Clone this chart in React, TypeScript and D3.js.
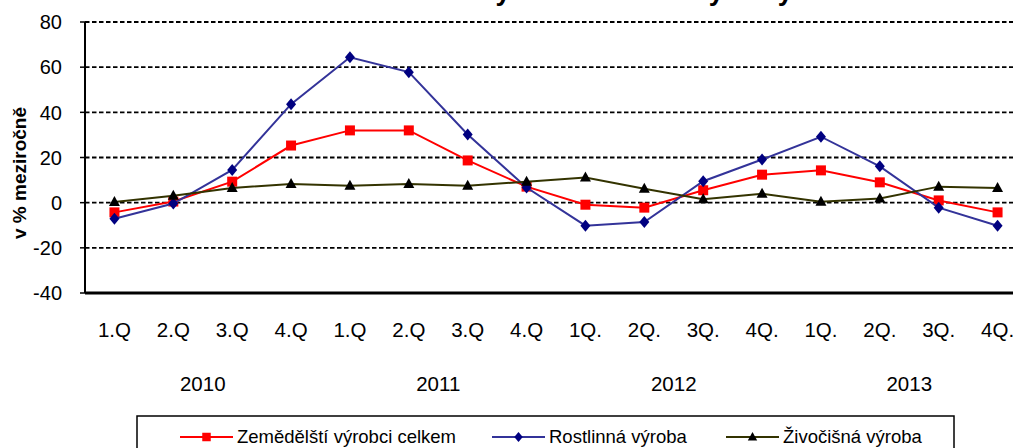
import * as d3 from "d3";

const quarters = ["1.Q", "2.Q", "3.Q", "4.Q", "1.Q", "2.Q", "3.Q", "4.Q", "1Q.", "2Q.", "3Q.", "4Q.", "1Q.", "2Q.", "3Q.", "4Q."];
const years = ["2010", "2011", "2012", "2013"];
const celkem = [-4.3, 0.5, 9.3, 25.3, 32.0, 32.0, 18.7, 7.1, -0.9, -2.2, 5.5, 12.4, 14.3, 9.0, 1.0, -4.3];
const rostlinna = [-7.1, -0.4, 14.5, 43.6, 64.4, 57.8, 30.2, 6.7, -10.2, -8.6, 9.5, 19.1, 29.2, 16.1, -2.2, -10.2];
const zivocisna = [0.3, 3.1, 6.5, 8.3, 7.5, 8.3, 7.5, 9.3, 11.1, 6.2, 1.5, 4.0, 0.4, 1.8, 7.1, 6.5];
const yTicks = [-40, -20, 0, 20, 40, 60, 80];

const font = "'Liberation Sans', Arial, sans-serif";

const square = "M-5,-5H5V5H-5Z";
const diamond = "M0,-6L5,0L0,6L-5,0Z";
const triangle = "M0,-6L5.5,4L-5.5,4Z";

const series = [
  { name: "Zemědělští výrobci celkem", values: celkem, line: "#ff0000", fill: "#ff0000", marker: square, lx: 180 },
  { name: "Rostlinná výroba", values: rostlinna, line: "#333399", fill: "#000080", marker: diamond, lx: 492 },
  { name: "Živočišná výroba", values: zivocisna, line: "#333300", fill: "#000000", marker: triangle, lx: 726 },
];

export default function App() {
  const width = 1013;
  const height = 448;
  const x = d3.scaleBand<number>().domain(d3.range(quarters.length)).range([85, 1027]);
  const cx = (i: number) => (x(i) as number) + x.bandwidth() / 2;
  const y = d3.scaleLinear().domain([-40, 80]).range([293, 22]);

  const line = d3
    .line<number>()
    .x((_, i) => cx(i))
    .y((d) => y(d));

  return (
    <svg
      width={width}
      height={height}
      style={{ position: "absolute", left: 0, top: 0, background: "#fff" }}
      fontFamily={font}
    >
      {/* title sits above the visible area, only descenders show */}
      <text x={425} y={0} fontSize={27} fontWeight="bold" fill="#000">
        Indexy cen zemědělských výrobců
      </text>

      {/* gridlines */}
      {yTicks.filter((t) => t !== -40).map((t) => (
        <line
          key={"g" + t}
          x1={85}
          x2={width}
          y1={y(t)}
          y2={y(t)}
          stroke="#000"
          strokeWidth={1.8}
          strokeDasharray="4.5,2.5"
        />
      ))}

      {/* y axis */}
      <line x1={85} x2={85} y1={y(80)} y2={y(-40)} stroke="#000" strokeWidth={2} />
      {yTicks.map((t) => (
        <g key={"t" + t}>
          <line x1={80} x2={85} y1={y(t)} y2={y(t)} stroke="#000" strokeWidth={1.5} />
          <text x={62} y={y(t)} dy="0.36em" textAnchor="end" fontSize={20}>
            {t}
          </text>
        </g>
      ))}
      <text
        transform={`translate(26,173) rotate(-90)`}
        textAnchor="middle"
        fontSize={19}
        fontWeight="bold"
      >
        v % meziročně
      </text>

      {/* x axis */}
      <line x1={85} x2={width} y1={y(-40)} y2={y(-40)} stroke="#000" strokeWidth={2.8} />
      {quarters.map((q, i) => (
        <text key={"q" + i} x={cx(i)} y={337} textAnchor="middle" fontSize={20.5}>
          {q}
        </text>
      ))}
      {years.map((yr, k) => (
        <text
          key={yr}
          x={(cx(k * 4 + 1) + cx(k * 4 + 2)) / 2}
          y={391}
          textAnchor="middle"
          fontSize={20.5}
        >
          {yr}
        </text>
      ))}

      {/* series */}
      {series.map((s) => (
        <g key={s.name}>
          <path d={line(s.values) || ""} fill="none" stroke={s.line} strokeWidth={2} />
          {s.values.map((v, i) => (
            <path key={i} d={s.marker} transform={`translate(${cx(i)},${y(v)})`} fill={s.fill} />
          ))}
        </g>
      ))}

      {/* legend */}
      <rect x={137} y={416} width={817} height={44} fill="#fff" stroke="#000" strokeWidth={1.5} />
      {series.map((s) => (
        <g key={"l" + s.name}>
          <line x1={s.lx} x2={s.lx + 53} y1={437} y2={437} stroke={s.line} strokeWidth={2} />
          <path d={s.marker} transform={`translate(${s.lx + 26.5},437) scale(0.85)`} fill={s.fill} />
          <text x={s.lx + 57} y={443} fontSize={18.5}>
            {s.name}
          </text>
        </g>
      ))}
    </svg>
  );
}
